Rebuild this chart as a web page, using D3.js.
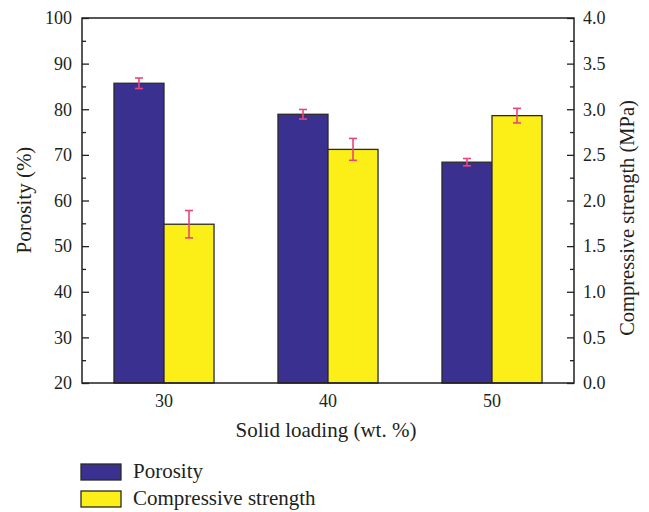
<!DOCTYPE html>
<html><head><meta charset="utf-8">
<script src="https://cdn.jsdelivr.net/npm/d3@7"></script>
<style>body{margin:0;background:#fff}svg{display:block}</style>
</head><body><svg id="c" width="649" height="512" style="font-family:'Liberation Serif','Times New Roman','DejaVu Serif',serif"></svg>
<script>
const categories = ["30", "40", "50"];
const porosity = [85.7, 78.9, 68.4];
const porosityErr = [1.15, 1.05, 0.8];
const strength = [1.74, 2.56, 2.93];
const strengthErr = [0.15, 0.12, 0.08];
const leftTicks = [20, 30, 40, 50, 60, 70, 80, 90, 100];
const rightTicks = [0, 0.5, 1, 1.5, 2, 2.5, 3, 3.5, 4];
const seriesNames = ["Porosity", "Compressive strength"];
const colors = ["#3a3090", "#fcee17"];
const errColor = "#e8457c";
const txt = "#231f20";

const svg = d3.select("#c");
const L = 82, R = 574, T = 18, B = 383;
const x = d3.scaleBand().domain(categories).range([L, R]).paddingInner(0.39).paddingOuter(0.195);
const xs = d3.scaleBand().domain([0, 1]).range([0, x.bandwidth()]);
const yL = d3.scaleLinear().domain([20, 100]).range([B, T]);
const yR = d3.scaleLinear().domain([0, 4]).range([B, T]);

const g = svg.append("g");
categories.forEach((c, i) => {
  const vals = [[porosity[i], porosityErr[i], yL], [strength[i], strengthErr[i], yR]];
  vals.forEach(([v, e, s], k) => {
    const x0 = x(c) + xs(k);
    g.append("rect").attr("x", x0).attr("y", s(v)).attr("width", xs.bandwidth()).attr("height", B - s(v))
      .attr("fill", colors[k]).attr("stroke", "#2b2a26").attr("stroke-width", 1.3);
    const cx = x0 + xs.bandwidth() / 2;
    const eg = g.append("g").attr("stroke", errColor).attr("stroke-width", 1.6);
    eg.append("line").attr("x1", cx).attr("x2", cx).attr("y1", s(v + e)).attr("y2", s(v - e));
    eg.append("line").attr("x1", cx - 4).attr("x2", cx + 4).attr("y1", s(v + e)).attr("y2", s(v + e));
    eg.append("line").attr("x1", cx - 4).attr("x2", cx + 4).attr("y1", s(v - e)).attr("y2", s(v - e));
  });
});

svg.append("rect").attr("x", L).attr("y", T).attr("width", R - L).attr("height", B - T)
  .attr("fill", "none").attr("stroke", txt).attr("stroke-width", 1.5);

function ticks(scale, vals, size, pos, dir) {
  const ax = dir === "right" ? d3.axisRight(scale) : d3.axisLeft(scale);
  svg.append("g").attr("transform", `translate(${pos},0)`)
    .call(ax.tickValues(vals).tickSize(size).tickFormat(""))
    .call(a => a.select(".domain").remove())
    .call(a => a.selectAll("line").attr("stroke", txt).attr("stroke-width", 1.3));
}
ticks(yL, leftTicks, 7, L, "right");
ticks(yL, d3.range(25, 100, 10), 4, L, "right");
ticks(yR, rightTicks, 7, R, "left");
ticks(yR, d3.range(0.25, 4, 0.5), 4, R, "left");

svg.append("g").selectAll("text").data(leftTicks).join("text")
  .attr("x", 72).attr("y", d => yL(d)).attr("dy", "0.35em").attr("text-anchor", "end")
  .attr("font-size", 18).attr("fill", txt).text(d => d);
svg.append("g").selectAll("text").data(rightTicks).join("text")
  .attr("x", 583).attr("y", d => yR(d)).attr("dy", "0.35em").attr("text-anchor", "start")
  .attr("font-size", 18).attr("fill", txt).text(d => d.toFixed(1));
svg.append("g").selectAll("text").data(categories).join("text")
  .attr("x", d => x(d) + x.bandwidth() / 2).attr("y", 407).attr("text-anchor", "middle")
  .attr("font-size", 18).attr("fill", txt).text(d => d);

svg.append("text").attr("x", 326).attr("y", 437).attr("text-anchor", "middle").attr("font-size", 21)
  .attr("fill", txt).text("Solid loading (wt. %)");
svg.append("text").attr("transform", "translate(31,200) rotate(-90)").attr("text-anchor", "middle")
  .attr("font-size", 21).attr("fill", txt).text("Porosity (%)");
svg.append("text").attr("transform", "translate(634,218) rotate(-90)").attr("text-anchor", "middle")
  .attr("font-size", 20.5).attr("fill", txt).text("Compressive strength (MPa)");

const lg = svg.append("g");
seriesNames.forEach((n, i) => {
  const yy = 464 + i * 27;
  lg.append("rect").attr("x", 81).attr("y", yy).attr("width", 40).attr("height", 16)
    .attr("fill", colors[i]).attr("stroke", "#2b2a26").attr("stroke-width", 1.3);
  lg.append("text").attr("x", 133).attr("y", yy + 14).attr("font-size", 21).attr("fill", txt).text(n);
});
</script></body></html>
